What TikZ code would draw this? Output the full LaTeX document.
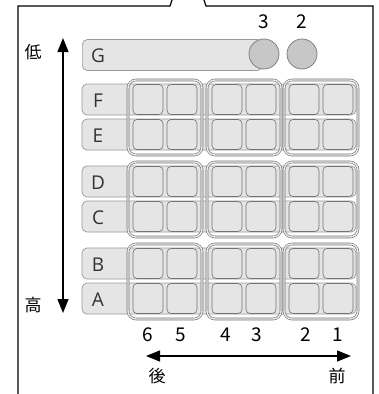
\documentclass[tikz,border=0pt]{standalone}
\usepackage{fontspec}
\setmainfont{Open Sans}
\newfontfamily\jpfont{Noto Sans CJK JP}
\usetikzlibrary{arrows.meta}
\tikzset{
  rowbar/.style={draw=black!40, fill=black!10, rounded corners=5pt, line width=0.7pt, inner sep=0pt, minimum width=274pt, minimum height=31pt},
  cellbox/.style={draw=black!55, rounded corners=4pt, line width=0.6pt, inner sep=0pt, minimum width=30pt, minimum height=30pt},
  grpbox/.style={draw=black!55, double=black!8, double distance=1.4pt, line width=0.6pt, rounded corners=8pt, inner sep=0pt, minimum width=74pt, minimum height=75pt},
  seat/.style={circle, draw=black!50, fill=black!22, line width=0.8pt, minimum size=30pt, inner sep=0pt},
  lettr/.style={font=\fontsize{19}{19}\selectfont, text=black!80, inner sep=0pt},
  numlab/.style={font=\jpfont\fontsize{19}{19}\selectfont, inner sep=0pt},
  kanji/.style={font=\jpfont\fontsize{17}{17}\selectfont, inner sep=0pt},
  frameline/.style={line width=1.2pt, black},
  bigarrow/.style={line width=1.3pt, {Triangle[length=14pt,width=11pt]}-{Triangle[length=14pt,width=11pt]}}
}
\begin{document}
\begin{tikzpicture}[x=1pt, y=-1pt]
\useasboundingbox (0,0) rectangle (379,394);
% frame
\draw[frameline] (18,394) -- (18,6) -- (170,6) -- (172,0);
\draw[frameline] (204,0) -- (206,6) -- (373,6) -- (373,394);
% G bar and seats
\node[rowbar, minimum width=180pt, anchor=west] (G) at (82,55) {};
\node[lettr] (lG) at (98,56) {G};
\node[seat] (s3) at (264,54) {};
\node[seat] (s2) at (302,54) {};
\node[numlab] (n3top) at (264,22) {3};
\node[numlab] (n2top) at (302,22) {2};
% rows
\foreach \r/\y in {F/99.5, E/134.5, D/181.5, C/216.5, B/263.5, A/298.5}{
  \node[rowbar] (\r) at (219,\y) {};
  \node[lettr] (l\r) at (98,\y+1) {\r};
  \foreach \c/\x in {6/148, 5/182, 4/227, 3/261, 2/304, 1/338}{
    \node[cellbox] (c\r\c) at (\x,\y) {};
  }
}
% group boxes
\foreach \p/\y in {FE/117.5, DC/199.5, BA/281.5}{
  \foreach \g/\x in {65/165, 43/244, 21/321}{
    \node[grpbox] (g\p\g) at (\x,\y) {};
  }
}
% bottom numbers
\foreach \c/\x in {6/148, 5/181, 4/226, 3/257, 2/306, 1/338}{
  \node[numlab] (nb\c) at (\x,335) {\c};
}
% vertical arrow
\coordinate (vtop) at (63,38);
\coordinate (vbot) at (63,313);
\draw[bigarrow] (vbot) -- (vtop);
\node[kanji] (low) at (33,52) {低};
\node[kanji] (high) at (33,305) {高};
% horizontal arrow
\coordinate (hl) at (146,356);
\coordinate (hr) at (351,356);
\draw[bigarrow] (hl) -- (hr);
\node[kanji] (back) at (157,376) {後};
\node[kanji] (front) at (337,376) {前};
\end{tikzpicture}
\end{document}
